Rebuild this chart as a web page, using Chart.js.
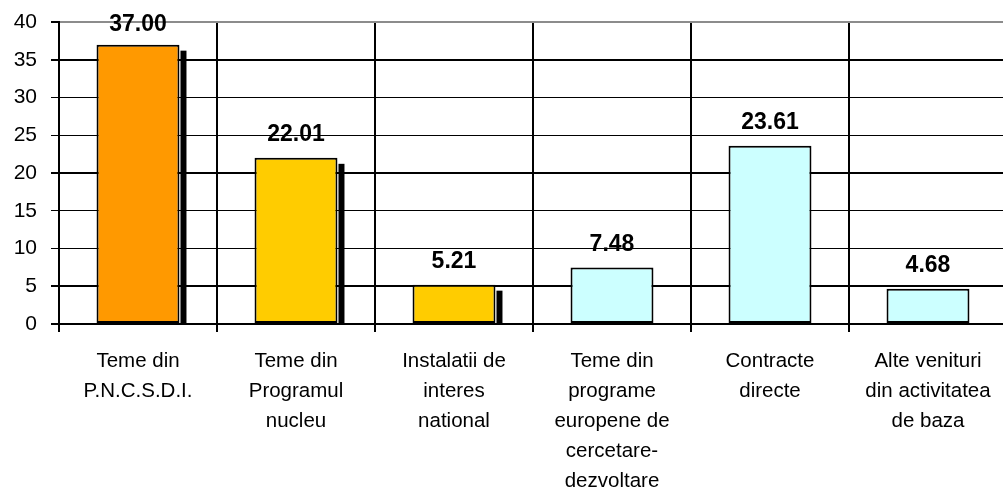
<!DOCTYPE html>
<html>
<head>
<meta charset="utf-8">
<script src="https://cdn.jsdelivr.net/npm/chart.js@4/dist/chart.umd.min.js"></script>
<style>
  html, body { margin:0; padding:0; background:#fff; overflow:hidden; }
  #wrap { position:relative; width:1010px; height:489px; }
</style>
</head>
<body>
<div id="wrap"><canvas id="c"></canvas></div>
<script>
// data
const categories = [
  ['Teme din', 'P.N.C.S.D.I.'],
  ['Teme din', 'Programul', 'nucleu'],
  ['Instalatii de', 'interes', 'national'],
  ['Teme din', 'programe', 'europene de', 'cercetare-', 'dezvoltare'],
  ['Contracte', 'directe'],
  ['Alte venituri', 'din activitatea', 'de baza']
];
const values = [37.00, 22.01, 5.21, 7.48, 23.61, 4.68];
const barColors = ['#FF9900', '#FFCC00', '#FFCC00', '#CCFFFF', '#CCFFFF', '#CCFFFF'];
const hasShadow = [true, true, true, false, false, false];
const yMin = 0, yMax = 40, yStep = 5;

const FONT = "'Liberation Sans', Arial, sans-serif";

// drop shadow strip on the first bars + value labels above bars
const barExtras = {
  id: 'barExtras',
  beforeDatasetsDraw(chart) {
    const ctx = chart.ctx;
    const meta = chart.getDatasetMeta(0);
    const base = chart.scales.y.getPixelForValue(0);
    ctx.save();
    ctx.fillStyle = '#000';
    meta.data.forEach((bar, i) => {
      if (!hasShadow[i]) return;
      const right = bar.x + bar.width / 2;
      ctx.fillRect(right + 1, bar.y + 6, 6, base - bar.y - 6);
    });
    ctx.restore();
  },
  afterDatasetsDraw(chart) {
    const ctx = chart.ctx;
    const meta = chart.getDatasetMeta(0);
    ctx.save();
    ctx.font = 'bold 23px ' + FONT;
    ctx.fillStyle = '#000';
    ctx.textAlign = 'center';
    ctx.textBaseline = 'alphabetic';
    meta.data.forEach((bar, i) => {
      const y = Math.max(bar.y - 17, chart.chartArea.top + 9);
      ctx.fillText(values[i].toFixed(2), bar.x, y);
    });
    ctx.restore();
  }
};

new Chart(document.getElementById('c'), {
  type: 'bar',
  data: {
    labels: categories,
    datasets: [{
      data: values,
      backgroundColor: barColors,
      borderColor: '#000',
      borderWidth: 2,
      borderSkipped: false,
      barPercentage: 0.525,
      categoryPercentage: 1
    }]
  },
  options: {
    responsive: true,
    maintainAspectRatio: false,
    animation: false,
    layout: { padding: { top: 22, right: 3, left: 0, bottom: 0 } },
    plugins: { legend: { display: false }, tooltip: { enabled: false } },
    scales: {
      x: {
        offset: true,
        grid: { offset: true, color: '#000', lineWidth: 2, tickLength: 8, tickColor: '#000' },
        border: { color: '#000', width: 2 },
        ticks: {
          color: '#000', maxRotation: 0, autoSkip: false, padding: 14,
          font: { family: FONT, size: 20.5, lineHeight: '30px' }
        },
        afterFit(scale) { scale.height = 165; }
      },
      y: {
        min: yMin, max: yMax,
        grid: {
          tickLength: 8,
          tickColor: '#000',
          color: (c) => (c.tick && c.tick.value === yMax) ? '#8c8c8c' : '#000',
          lineWidth: (c) => {
            const v = c.tick ? c.tick.value : 0;
            if (v === yMax || v === 0) return 2;
            return (v % 15 === 5) ? 2 : 1;
          }
        },
        border: { color: '#000', width: 2 },
        ticks: {
          stepSize: yStep, color: '#000', padding: 14,
          font: { family: FONT, size: 21 }
        },
        afterFit(scale) {
          scale.width = 59;
          scale.paddingTop = 0;
          scale.paddingBottom = 0;
        }
      }
    }
  },
  plugins: [barExtras]
});
</script>
</body>
</html>
